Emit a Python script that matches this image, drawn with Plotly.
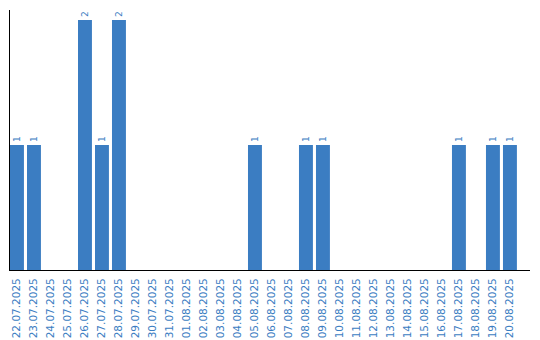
import plotly.graph_objects as go

dates = ["22.07.2025", "23.07.2025", "24.07.2025", "25.07.2025", "26.07.2025", "27.07.2025",
         "28.07.2025", "29.07.2025", "30.07.2025", "31.07.2025", "01.08.2025", "02.08.2025",
         "03.08.2025", "04.08.2025", "05.08.2025", "06.08.2025", "07.08.2025", "08.08.2025",
         "09.08.2025", "10.08.2025", "11.08.2025", "12.08.2025", "13.08.2025", "14.08.2025",
         "15.08.2025", "16.08.2025", "17.08.2025", "18.08.2025", "19.08.2025", "20.08.2025"]
counts = [1, 1, 0, 0, 2, 1, 2, 0, 0, 0, 0, 0, 0, 0, 1, 0, 0, 1, 1, 0, 0, 0, 0, 0, 0, 0, 1, 0, 1, 1]

blue = "#3b7dc2"
labels = [str(c) if c else "" for c in counts]

fig = go.Figure(go.Bar(
    x=list(range(len(dates))), y=counts, marker_color=blue, marker_line_width=0,
    width=0.82, text=labels, textposition="outside", textangle=-90,
    textfont=dict(family="DejaVu Sans", size=9, color=blue), cliponaxis=False,
))
fig.update_layout(
    width=540, height=340, margin=dict(l=10, r=10, t=10, b=70, autoexpand=False),
    plot_bgcolor="white", paper_bgcolor="white", showlegend=False,
    xaxis=dict(range=[-0.41, 30.18], tickmode="array", tickvals=list(range(len(dates))),
               ticktext=dates, tickangle=-90, showgrid=False, zeroline=False,
               showline=True, linecolor="black", linewidth=1, ticks="",
               automargin=False, ticklabelstandoff=3,
               tickfont=dict(family="DejaVu Sans", size=10.5, color=blue)),
    yaxis=dict(range=[0, 2.08], showticklabels=False, showgrid=False, zeroline=False,
               showline=True, linecolor="black", linewidth=1, ticks="", automargin=False),
)
fig.write_html("out.html")
